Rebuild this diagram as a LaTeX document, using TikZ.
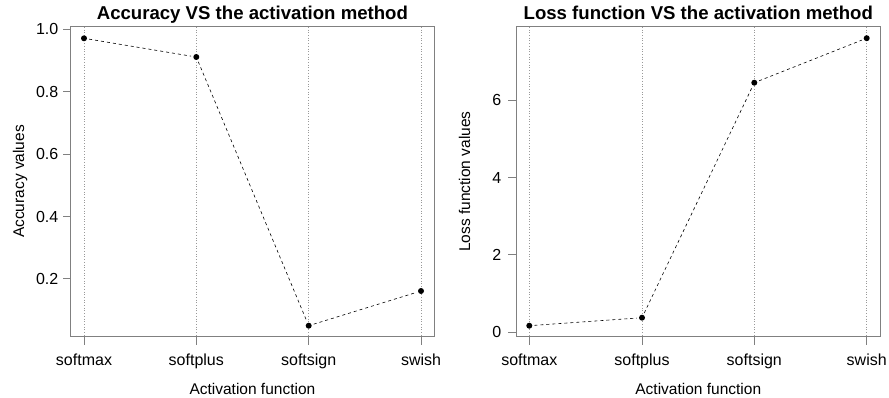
\documentclass[tikz,border=0pt]{standalone}
\usepackage{fontspec}
\setmainfont{Liberation Sans}
\usetikzlibrary{positioning,calc}
\tikzset{
	frame/.style={draw=black!50, line width=1pt},
	guide/.style={draw=black!40, dotted, line width=0.7pt},
	axtick/.style={draw=black!50, line width=1pt},
	series/.style={dash pattern=on 3pt off 3pt, line width=0.6pt, shorten >=2pt, shorten <=2pt},
	datapt/.style={circle, fill=black, inner sep=0pt, minimum size=6pt},
	ticklab/.style={font=\fontsize{16}{18}\selectfont, inner sep=0pt},
	axlab/.style={font=\fontsize{15.5}{18}\selectfont, inner sep=0pt},
	plottitle/.style={font=\bfseries\fontsize{18.6}{22}\selectfont, inner sep=0pt}
}
\begin{document}
\begin{tikzpicture}[x=1pt, y=-1pt]
	\useasboundingbox (0,0) rectangle (889,398);
	% left panel: accuracy
	\foreach \px in {84,196.3,308.7,421}
		\draw[guide] (\px,27) -- (\px,336);
	\draw[frame] (70.7,27) rectangle (434,336);
	\foreach \lab/\py in {1.0/29.3,0.8/91.7,0.6/154.1,0.4/216.5,0.2/278.9} {
		\draw[axtick] (70.7,\py) -- (63.3,\py);
		\node[ticklab, anchor=east] at (58.5,\py) {\lab};
	}
	\foreach \lab/\px in {softmax/84,softplus/196.3,softsign/308.7,swish/421} {
		\draw[axtick] (\px,336) -- (\px,345);
		\node[ticklab, anchor=base] at (\px,365) {\lab};
	}
	\node[datapt] (a1) at (84,38.3) {};
	\node[datapt] (a2) at (196.3,57) {};
	\node[datapt] (a3) at (308.7,325.7) {};
	\node[datapt] (a4) at (421,291) {};
	\draw[series] (a1) -- (a2);
	\draw[series] (a2) -- (a3);
	\draw[series] (a3) -- (a4);
	\node[plottitle, anchor=base] (t1) at (252.4,19.5) {Accuracy VS the activation method};
	\node[axlab, anchor=base] (x1) at (252.4,394) {Activation function};
	\node[axlab, anchor=base, rotate=90] (y1) at (24,181.5) {Accuracy values};
	% right panel: loss
	\foreach \px in {529.3,642,754.3,866.7}
		\draw[guide] (\px,27) -- (\px,336);
	\draw[frame] (516,27) rectangle (880.7,336);
	\foreach \lab/\py in {0/332.3,2/254.9,4/177.5,6/100.1} {
		\draw[axtick] (516,\py) -- (508.3,\py);
		\node[ticklab, anchor=east] at (501.5,\py) {\lab};
	}
	\foreach \lab/\px in {softmax/529.3,softplus/642,softsign/754.3,swish/866.7} {
		\draw[axtick] (\px,336) -- (\px,345);
		\node[ticklab, anchor=base] at (\px,365) {\lab};
	}
	\node[datapt] (l1) at (529.3,325.7) {};
	\node[datapt] (l2) at (642,317.7) {};
	\node[datapt] (l3) at (754.3,82.7) {};
	\node[datapt] (l4) at (866.7,38.2) {};
	\draw[series] (l1) -- (l2);
	\draw[series] (l2) -- (l3);
	\draw[series] (l3) -- (l4);
	\node[plottitle, anchor=base] (t2) at (698.3,19.5) {Loss function VS the activation method};
	\node[axlab, anchor=base] (x2) at (698.3,394) {Activation function};
	\node[axlab, anchor=base, rotate=90] (y2) at (470,181.5) {Loss function values};
\end{tikzpicture}
\end{document}
